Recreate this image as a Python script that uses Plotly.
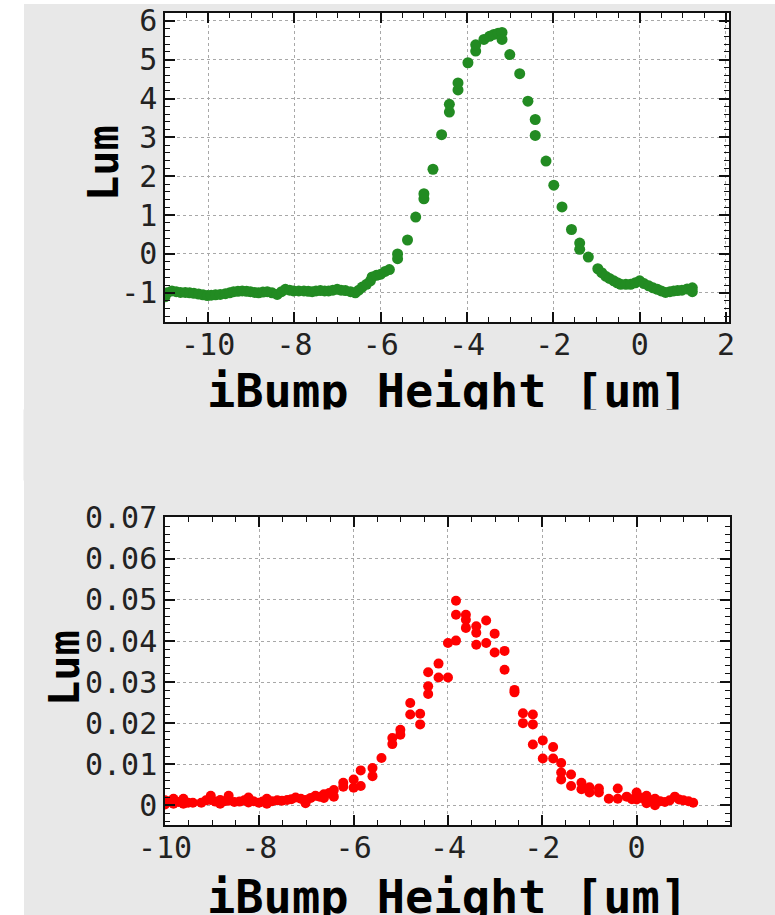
import plotly.graph_objects as go

# ---------------- data ----------------
top_x = [-11.0, -10.95, -10.84, -10.74, -10.64, -10.53, -10.43, -10.33, -10.22, -10.12,
         -10.02, -9.93, -9.83, -9.72, -9.60, -9.50, -9.41, -9.31, -9.21, -9.11,
         -9.02, -8.92, -8.83, -8.73, -8.63, -8.52, -8.40, -8.30, -8.21, -8.11,
         -8.02, -7.90, -7.78, -7.68, -7.59, -7.50, -7.40, -7.30, -7.21, -7.11,
         -7.01, -6.92, -6.82, -6.70, -6.59, -6.51, -6.43, -6.33, -6.24, -6.20,
         -6.10, -6.00, -5.90, -5.80, -5.61, -5.61, -5.38, -5.19, -5.00, -5.00,
         -4.79, -4.59, -4.41, -4.41, -4.21, -4.21, -3.98, -3.80, -3.80, -3.61,
         -3.48, -3.38, -3.28, -3.19, -3.19, -3.01, -2.78, -2.59, -2.42, -2.42,
         -2.17, -1.99, -1.80, -1.58, -1.39, -1.39, -1.19, -0.97, -0.88, -0.79,
         -0.70, -0.60, -0.52, -0.44, -0.32, -0.21, -0.10, 0.00, 0.10, 0.21,
         0.31, 0.41, 0.50, 0.60, 0.70, 0.79, 0.88, 0.98, 1.10, 1.22, 1.22]
top_y = [-1.10, -1.00, -0.95, -0.97, -0.99, -0.99, -1.00, -1.01, -1.03, -1.05,
         -1.07, -1.06, -1.05, -1.04, -1.02, -1.00, -0.97, -0.96, -0.95, -0.96,
         -0.97, -0.99, -1.00, -0.98, -0.97, -1.00, -1.04, -0.97, -0.91, -0.93,
         -0.95, -0.95, -0.95, -0.96, -0.97, -0.95, -0.94, -0.95, -0.95, -0.93,
         -0.91, -0.93, -0.94, -0.97, -1.00, -0.93, -0.85, -0.78, -0.69, -0.59,
         -0.55, -0.52, -0.45, -0.40, -0.12, 0.00, 0.36, 0.95, 1.42, 1.55,
         2.18, 3.07, 3.65, 3.85, 4.22, 4.40, 4.92, 5.22, 5.38, 5.52,
         5.60, 5.65, 5.68, 5.70, 5.52, 5.13, 4.64, 3.93, 3.46, 3.05,
         2.39, 1.77, 1.21, 0.63, 0.28, 0.12, -0.08, -0.38, -0.48, -0.57,
         -0.63, -0.69, -0.74, -0.78, -0.78, -0.78, -0.74, -0.69, -0.76, -0.82,
         -0.87, -0.91, -0.95, -0.99, -0.97, -0.95, -0.94, -0.93, -0.90, -0.87, -0.97]

bot_x = [-10.0, -10.0, -9.91, -9.82, -9.82, -9.71, -9.61, -9.61, -9.51, -9.41,
         -9.23, -9.13, -9.03, -9.03, -8.93, -8.83, -8.83, -8.74, -8.65, -8.65,
         -8.53, -8.42, -8.32, -8.23, -8.23, -8.12, -8.01, -7.93, -7.84, -7.84,
         -7.73, -7.62, -7.52, -7.41, -7.32, -7.23, -7.12, -7.02, -7.02, -6.91,
         -6.81, -6.72, -6.63, -6.63, -6.52, -6.42, -6.42, -6.22, -6.22, -6.00,
         -6.00, -5.85, -5.85, -5.60, -5.60, -5.41, -5.18, -5.18, -5.01, -5.01,
         -4.80, -4.80, -4.59, -4.59, -4.42, -4.42, -4.42, -4.20, -4.20, -4.00,
         -4.00, -3.83, -3.83, -3.83, -3.62, -3.62, -3.62, -3.40, -3.40, -3.40,
         -3.19, -3.19, -3.01, -3.01, -2.80, -2.80, -2.59, -2.59, -2.41, -2.41,
         -2.20, -2.20, -2.20, -1.99, -1.99, -1.77, -1.77, -1.60, -1.60, -1.60,
         -1.39, -1.39, -1.17, -1.17, -1.00, -1.00, -0.80, -0.80, -0.59, -0.40,
         -0.40, -0.21, -0.10, 0.00, 0.00, 0.10, 0.21, 0.21, 0.30, 0.39,
         0.39, 0.50, 0.60, 0.70, 0.81, 0.90, 0.99, 1.10, 1.20]
bot_y = [0.0012, 0.0002, 0.0010, 0.0016, 0.0004, 0.0008, 0.0016, 0.0004, 0.0006, 0.0006,
         0.0006, 0.0012, 0.0023, 0.0013, 0.0009, 0.0013, 0.0004, 0.0010, 0.0023, 0.0011,
         0.0008, 0.0009, 0.0012, 0.0019, 0.0007, 0.0010, 0.0006, 0.0009, 0.0016, 0.0004,
         0.0010, 0.0012, 0.0011, 0.0013, 0.0015, 0.0019, 0.0016, 0.0013, 0.0005, 0.0018,
         0.0023, 0.0021, 0.0027, 0.0018, 0.0030, 0.0037, 0.0021, 0.0055, 0.0045, 0.0063,
         0.0043, 0.0085, 0.0047, 0.0091, 0.0071, 0.0115, 0.0164, 0.0149, 0.0184, 0.0172,
         0.0249, 0.0221, 0.0223, 0.0197, 0.0271, 0.0290, 0.0324, 0.0345, 0.0311, 0.0311,
         0.0395, 0.0498, 0.0464, 0.0401, 0.0464, 0.0452, 0.0432, 0.0436, 0.0420, 0.0391,
         0.0450, 0.0395, 0.0418, 0.0372, 0.0376, 0.0330, 0.0281, 0.0275, 0.0224, 0.0200,
         0.0221, 0.0197, 0.0148, 0.0158, 0.0114, 0.0142, 0.0114, 0.0103, 0.0063, 0.0080,
         0.0075, 0.0047, 0.0055, 0.0039, 0.0044, 0.0031, 0.0041, 0.0031, 0.0016, 0.0041,
         0.0016, 0.0021, 0.0015, 0.0031, 0.0014, 0.0018, 0.0023, 0.0005, 0.0012, 0.0016,
         0.0000, 0.0010, 0.0008, 0.0012, 0.0021, 0.0014, 0.0012, 0.0010, 0.0006]

top_xtick_vals = [-10, -8, -6, -4, -2, 0, 2]
top_xtick_text = ["-10", "-8", "-6", "-4", "-2", "0", "2"]
top_ytick_vals = [-1, 0, 1, 2, 3, 4, 5, 6]
top_ytick_text = ["-1", "0", "1", "2", "3", "4", "5", "6"]
bot_xtick_vals = [-10, -8, -6, -4, -2, 0]
bot_xtick_text = ["-10", "-8", "-6", "-4", "-2", "0"]
bot_ytick_vals = [0, 0.01, 0.02, 0.03, 0.04, 0.05, 0.06, 0.07]
bot_ytick_text = ["0", "0.01", "0.02", "0.03", "0.04", "0.05", "0.06", "0.07"]

x_title = "iBump Height [um]"
y_title = "Lum"

# ---------------- layout helpers ----------------
W, H = 775, 915
BG = "#e8e8e8"


def fx(p):
    return p / W


def fy(p):
    return 1 - p / H


fig = go.Figure()
fig.add_trace(go.Scatter(x=top_x, y=top_y, mode="markers", xaxis="x", yaxis="y",
                         marker=dict(color="#228b22", size=11), showlegend=False,
                         hoverinfo="skip"))
fig.add_trace(go.Scatter(x=bot_x, y=bot_y, mode="markers", xaxis="x2", yaxis="y2",
                         marker=dict(color="#ff0000", size=10), showlegend=False,
                         hoverinfo="skip"))

tickfont = dict(family="DejaVu Sans Mono", size=30, color="#222222")


def axis_style(vals, text, minor_dtick, standoff):
    return dict(showline=True, linecolor="#111111", linewidth=1.5, mirror="allticks",
                ticks="inside", ticklen=10, tickwidth=1.5, tickcolor="#111111",
                tickmode="array", tickvals=vals, ticktext=text,
                ticklabelstandoff=standoff,
                showgrid=True, gridcolor="#a8a8a8", griddash="3px,3px", gridwidth=1,
                zeroline=False, tickfont=tickfont, automargin=False,
                minor=dict(ticks="inside", ticklen=5, tickwidth=1, tickcolor="#111111",
                           tick0=0, dtick=minor_dtick, showgrid=False))


fig.update_layout(
    width=W, height=H, autosize=False,
    margin=dict(l=0, r=0, t=0, b=0, pad=0),
    paper_bgcolor=BG, plot_bgcolor="white",
    xaxis=dict(domain=[fx(165), fx(729)], anchor="y", range=[-11, 2.07],
               **axis_style(top_xtick_vals, top_xtick_text, 0.5, -5)),
    yaxis=dict(domain=[fy(322), fy(13)], anchor="x", range=[-1.75, 6.2],
               **axis_style(top_ytick_vals, top_ytick_text, 0.2, 0)),
    xaxis2=dict(domain=[fx(165), fx(730)], anchor="y2", range=[-10, 1.98],
                **axis_style(bot_xtick_vals, bot_xtick_text, 0.5, -5)),
    yaxis2=dict(domain=[fy(825), fy(517)], anchor="x2", range=[-0.0048, 0.0702],
                **axis_style(bot_ytick_vals, bot_ytick_text, 0.002, 0)),
)

title_font = dict(family="DejaVu Sans Mono", size=47, color="#000000", weight="bold")
ylab_font = dict(family="DejaVu Sans Mono", size=42, color="#000000", weight="bold")

annotations = [
    dict(text=x_title, x=fx(447), y=fy(391), xref="paper", yref="paper",
         xanchor="center", yanchor="middle", showarrow=False, font=title_font),
    # cover that clips the lower part of the upper x title
    dict(text=" ", x=fx(24 + 390), y=fy(445), xref="paper", yref="paper",
         xanchor="center", yanchor="middle", showarrow=False, width=780, height=70,
         bgcolor=BG, borderpad=0),
    dict(text=x_title, x=fx(447), y=fy(896), xref="paper", yref="paper",
         xanchor="center", yanchor="middle", showarrow=False, font=title_font),
    dict(text=y_title, x=fx(103.5), y=fy(163.5), xref="paper", yref="paper",
         xanchor="center", yanchor="middle", textangle=-90, showarrow=False,
         font=ylab_font),
    dict(text=y_title, x=fx(64.5), y=fy(668.5), xref="paper", yref="paper",
         xanchor="center", yanchor="middle", textangle=-90, showarrow=False,
         font=ylab_font),
]
fig.update_layout(annotations=annotations)

# white page strips on the left and top edges
fig.update_layout(shapes=[
    dict(type="rect", xref="paper", yref="paper", x0=0, x1=fx(24), y0=0, y1=1,
         fillcolor="white", line=dict(width=0), layer="above"),
    dict(type="rect", xref="paper", yref="paper", x0=0, x1=1, y0=fy(4), y1=1,
         fillcolor="white", line=dict(width=0), layer="above"),
])

fig.write_html("out.html", config={"displayModeBar": False})
